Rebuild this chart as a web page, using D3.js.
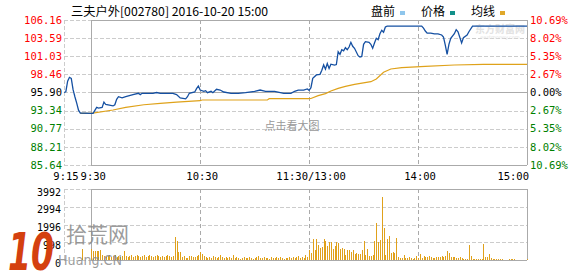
<!DOCTYPE html>
<html>
<head>
<meta charset="utf-8">
<script src="https://cdn.jsdelivr.net/npm/d3@7"></script>
<style>
  body { margin: 0; background: #fff; }
  svg { display: block; }
</style>
</head>
<body>
<svg id="chart" width="578" height="276"></svg>
<script>
// ---- data ----
const title = "三夫户外[002780] 2016-10-20 15:00";
const prevClose = 95.90;
const priceTicks = [106.16, 103.59, 101.03, 98.46, 95.90, 93.34, 90.77, 88.21, 85.64];
const pctTicks = ["10.69%", "8.02%", "5.35%", "2.67%", "0.00%", "2.67%", "5.35%", "8.02%", "10.69%"];
const volTicks = [3992, 2994, 1996, 998, 0];
const timeTicks = ["9:15", "9:30", "10:30", "11:30/13:00", "14:00", "15:00"];

const priceTimes = ["9:15","9:16","9:17","9:18","9:19","9:20","9:21","9:22","9:23","9:24",
  "9:30","9:31","9:33","9:34","9:36","9:37","9:38","9:42","9:43","9:44","9:45","9:47","9:49",
  "9:53","9:56","9:57","9:58","10:04","10:06","10:08","10:15","10:17","10:19","10:22","10:23",
  "10:24","10:27","10:28","10:29","10:30","10:32","10:33","10:34","10:36","10:37","10:39",
  "10:41","10:43","10:47","10:51","10:55","11:00","11:03","11:06","11:11","11:16","11:20",
  "11:22","11:24","11:27","11:29","11:30",
  "13:01","13:02","13:04","13:06","13:07","13:08","13:09","13:10","13:11","13:12","13:14",
  "13:15","13:16","13:17","13:18","13:19","13:20","13:21","13:22","13:23","13:24","13:25",
  "13:27","13:28","13:29","13:30","13:31","13:33","13:34","13:35","13:36","13:37","13:38",
  "13:39","13:40","13:41","13:42","13:43","14:02","14:03","14:04","14:05","14:07","14:09",
  "14:11","14:13","14:14","14:15","14:16","14:17","14:18","14:20","14:21","14:22","14:24",
  "14:25","14:27","14:28","14:30","15:00"];
const priceValues = [95.90,96.0,97.5,98.05,97.9,96.3,95.3,94.4,93.4,93.0,
  92.96,92.96,93.8,93.7,93.8,94.55,94.2,94.0,94.17,94.94,95.3,95.15,95.3,
  95.59,95.79,95.6,95.79,95.79,95.9,95.79,95.79,95.6,95.12,95.0,95.3,
  95.79,95.97,96.44,96.82,96.25,96.07,96.16,95.87,96.07,95.87,96.35,
  96.25,95.97,95.79,95.79,95.87,96.07,96.25,96.07,96.07,95.79,95.79,
  96.07,96.25,96.25,96.4,96.21,
  96.58,97.9,98.38,98.47,99.04,99.8,99.2,100.0,99.3,99.9,99.79,
  99.85,101.67,101.3,101.96,101.8,102.24,101.96,102.34,103.0,102.44,102.15,
  101.11,100.92,101.0,102.72,103.09,103.0,102.72,102.15,102.9,103.57,103.37,
  104.22,104.7,104.42,105.17,105.3,105.3,105.0,104.6,104.3,104.3,104.2,
  104.2,104.04,103.75,102.62,101.3,102.72,103.57,104.22,104.79,104.5,102.9,
  103.66,104.04,104.5,105.3,105.3];

const avgTimes = ["9:24","9:30","9:42","9:49","9:59","10:08","10:17","10:30","10:31","11:07",
  "11:08","11:30","13:01","13:05","13:09","13:12","13:16","13:20","13:25","13:34","13:37",
  "13:41","13:45","13:51","14:04","14:20","14:36","15:00"];
const avgValues = [92.96,92.96,93.42,93.8,94.17,94.37,94.55,94.74,94.84,94.84,
  95.02,95.02,95.05,95.45,95.74,96.11,96.49,96.77,97.05,97.43,97.81,
  98.76,99.23,99.41,99.6,99.79,99.89,99.89];

// volume (手): pre-market match, then one bar a minute
const volPreTime = "9:25";
const volPre = 640;
const volAM = [620,520,500,480,500,540,
  280,200,170,230,260,150,210,280,160,200,150,230,
  500,
  220,160,230,280,150,210,270,200,160,240,280,150,220,260,200,150,230,270,210,160,220,150,240,280,200,170,230,
  1300,1070,450,470,
  160,220,110,110,220,230,170,170,230,300,
  450,350,
  200,170,110,150,110,220,150,110,170,
  280,
  150,110,170,110,150,110,
  280,
  110,150,110,80,110,170,110,110,150,110,80,110,150,220,110,110,170,110,110,80,
  150,110,110,170,110,150,110,80,110,110,150,110,170,110,150,
  250,110,150,110,280,150,560];
const volPM = [410,1180,560,1180,840,650,730,1180,1070,790,
  1010,1010,620,790,1010,960,620,680,620,280,
  560,560,450,560,340,390,340,340,560,1070,
  280,620,220,220,280,1070,2080,1010,1120,3540,
  1800,280,1170,1350,370,450,370,1230,170,110,
  110,280,110,110,170,110,75,110,220,110,
  340,110,220,150,190,220,190,110,110,150,
  150,150,220,150,220,500,390,150,150,150,
  110,110,150,110,75,75,75,840,220,75,
  75,75,75,75,75,900,150,150,340,110,
  75,75,75,30,75,75,20,20,20,75,
  75,75,75,20,20,20,20,20,20,75];

// ---- helpers ----
function fmt(h, m) { return h + ":" + String(m).padStart(2, "0"); }
function minuteIndex(t) {
  const [h, m] = t.split(":").map(Number);
  const total = h * 60 + m;
  if (total <= 11 * 60 + 30) return total - (9 * 60 + 15);
  return total - 13 * 60 + 135;
}
const volAMTimes = volAM.map((d, i) => { const t = 9 * 60 + 30 + i; return fmt(Math.floor(t / 60), t % 60); });
const volPMTimes = volPM.map((d, i) => { const t = 13 * 60 + 1 + i; return fmt(Math.floor(t / 60), t % 60); });
const volData = [{ t: volPreTime, v: volPre }]
  .concat(volAM.map((v, i) => ({ t: volAMTimes[i], v })))
  .concat(volPM.map((v, i) => ({ t: volPMTimes[i], v })));

const svg = d3.select("#chart");
const left = 64, open = 91.3, right = 527;
const x = d3.scaleLinear().domain([0, 255]).range([left, right]);
const y = d3.scaleLinear().domain([85.64, 106.16]).range([165, 20]);
const yv = d3.scaleLinear().domain([0, 3992]).range([260, 189]);

const red = "#ff0000", green = "#008000";
const colorFor = v => v > prevClose ? red : (v < prevClose ? green : "#000");
const mono = "'DejaVu Sans Mono', 'Liberation Mono', monospace";
const cjk = "'Noto Sans CJK SC', sans-serif";

// ---- price panel grid ----
const grid = svg.append("g");
grid.selectAll(".hg").data(priceTicks).join("line")
  .attr("x1", left).attr("x2", right)
  .attr("y1", d => Math.round(y(d)) + 0.5).attr("y2", d => Math.round(y(d)) + 0.5)
  .attr("stroke", "#cccccc").attr("stroke-dasharray", "4,2");
grid.selectAll(".vg").data(["10:30", "11:30", "14:00"]).join("line")
  .attr("x1", d => Math.round(x(minuteIndex(d))) + 0.5).attr("x2", d => Math.round(x(minuteIndex(d))) + 0.5)
  .attr("y1", 20).attr("y2", 165)
  .attr("stroke", "#aaaaaa").attr("stroke-dasharray", "4,3");
grid.append("line").attr("x1", left + 0.5).attr("x2", left + 0.5).attr("y1", 20).attr("y2", 165)
  .attr("stroke", "#cccccc").attr("stroke-dasharray", "4,2");
[106.16, prevClose, 85.64].forEach(v => {
  grid.append("line").attr("x1", Math.round(open)).attr("x2", right)
    .attr("y1", Math.round(y(v)) + 0.5).attr("y2", Math.round(y(v)) + 0.5).attr("stroke", "#aaaaaa");
});
[open, right].forEach(px => {
  grid.append("line").attr("x1", Math.round(px) + 0.5).attr("x2", Math.round(px) + 0.5)
    .attr("y1", 20).attr("y2", 165).attr("stroke", "#aaaaaa");
});

// ---- volume panel grid ----
const vgrid = svg.append("g");
vgrid.selectAll("line.h").data(volTicks).join("line")
  .attr("x1", left).attr("x2", right)
  .attr("y1", d => Math.round(yv(d)) + 0.5).attr("y2", d => Math.round(yv(d)) + 0.5)
  .attr("stroke", "#cccccc").attr("stroke-dasharray", "4,2");
vgrid.selectAll("line.v").data(["10:30", "11:30", "14:00"]).join("line")
  .attr("x1", d => Math.round(x(minuteIndex(d))) + 0.5).attr("x2", d => Math.round(x(minuteIndex(d))) + 0.5)
  .attr("y1", 189).attr("y2", 260)
  .attr("stroke", "#aaaaaa").attr("stroke-dasharray", "4,3");
vgrid.append("line").attr("x1", left + 0.5).attr("x2", left + 0.5).attr("y1", 189).attr("y2", 260)
  .attr("stroke", "#cccccc").attr("stroke-dasharray", "4,2");
[3992, 0].forEach(v => {
  vgrid.append("line").attr("x1", Math.round(open)).attr("x2", right)
    .attr("y1", Math.round(yv(v)) + 0.5).attr("y2", Math.round(yv(v)) + 0.5).attr("stroke", "#aaaaaa");
});
[open, right].forEach(px => {
  vgrid.append("line").attr("x1", Math.round(px) + 0.5).attr("x2", Math.round(px) + 0.5)
    .attr("y1", 189).attr("y2", 260).attr("stroke", "#aaaaaa");
});

// ---- volume bars ----
svg.append("g").selectAll("rect").data(volData).join("rect")
  .attr("x", d => Math.round(x(minuteIndex(d.t))))
  .attr("width", 1)
  .attr("y", d => yv(d.v))
  .attr("height", d => yv(0) - yv(d.v))
  .attr("fill", "#e0a11b")
  .attr("shape-rendering", "crispEdges");

// ---- watermarks behind lines ----
svg.append("text").attr("x", 292).attr("y", 130).attr("text-anchor", "middle")
  .attr("font-family", cjk).attr("font-size", 11).attr("fill", "#999")
  .text("点击看大图");
svg.append("text").attr("x", 500).attr("y", 33).attr("text-anchor", "middle")
  .attr("font-family", cjk).attr("font-size", 10).attr("font-weight", "bold").attr("fill", "#e2e2e2")
  .text("东方财富网");
svg.append("text").attr("x", 500).attr("y", 39).attr("text-anchor", "middle")
  .attr("font-family", "'DejaVu Sans', sans-serif").attr("font-size", 5).attr("fill", "#e2e2e2")
  .text("eastmoney.com");

// ---- average and price lines ----
const line = d3.line().x(d => x(minuteIndex(d[0]))).y(d => y(d[1]));
svg.append("path").datum(avgTimes.map((t, i) => [t, avgValues[i]]))
  .attr("d", line).attr("fill", "none").attr("stroke", "#dfa21a").attr("stroke-width", 1.2);
svg.append("path").datum(priceTimes.map((t, i) => [t, priceValues[i]]))
  .attr("d", line).attr("fill", "none").attr("stroke", "#1550a2").attr("stroke-width", 1.3);

// ---- axis labels ----
svg.append("g").selectAll("text").data(priceTicks).join("text")
  .attr("x", 62).attr("y", d => y(d)).attr("dy", "0.35em").attr("text-anchor", "end")
  .attr("font-family", mono).attr("font-size", 10.5).attr("fill", d => colorFor(d))
  .text(d => d.toFixed(2));
svg.append("g").selectAll("text").data(pctTicks).join("text")
  .attr("x", 530).attr("y", (d, i) => y(priceTicks[i])).attr("dy", "0.35em")
  .attr("font-family", mono).attr("font-size", 10.5).attr("fill", (d, i) => colorFor(priceTicks[i]))
  .text(d => d);
svg.append("g").selectAll("text").data(volTicks).join("text")
  .attr("x", 61).attr("y", d => yv(d) + 3).attr("dy", "0.35em").attr("text-anchor", "end")
  .attr("font-family", mono).attr("font-size", 10).attr("fill", "#000")
  .text(d => d);
svg.append("g").selectAll("text").data(timeTicks).join("text")
  .attr("x", d => {
    const t = d.split("/")[0];
    return d === "15:00" ? 529 : x(minuteIndex(t)) + 2;
  })
  .attr("y", 180)
  .attr("text-anchor", d => d === "15:00" ? "end" : "middle")
  .attr("font-family", mono).attr("font-size", 10.5).attr("fill", "#000")
  .text(d => d);

// ---- title and legend ----
svg.append("text").attr("x", 71).attr("y", 16)
  .attr("font-family", "'Noto Sans CJK SC', 'DejaVu Sans Mono', sans-serif").attr("font-size", 12)
  .attr("textLength", 197).attr("lengthAdjust", "spacingAndGlyphs")
  .text(title);
const legend = [["盘前", "#8fc6ec", 371], ["价格", "#12908a", 421], ["均线", "#e0a82a", 471]];
const lg = svg.append("g").selectAll("g").data(legend).join("g")
  .attr("transform", d => `translate(${d[2]},0)`);
lg.append("text").attr("x", 0).attr("y", 16)
  .attr("font-family", cjk).attr("font-size", 12).attr("fill", "#000").text(d => d[0]);
lg.append("rect").attr("x", 29).attr("y", 11).attr("width", 5).attr("height", 4)
  .attr("fill", d => d[1]);

// ---- site logo overlay (bottom left) ----
const logo = svg.append("g");
logo.append("text").attr("x", 8).attr("y", 270)
  .attr("font-family", "'DejaVu Sans', sans-serif").attr("font-weight", "bold").attr("font-style", "italic")
  .attr("font-size", 52).attr("textLength", 46).attr("lengthAdjust", "spacingAndGlyphs")
  .attr("fill", "#d4400f").text("10");
logo.append("text").attr("x", 66).attr("y", 242)
  .attr("font-family", cjk).attr("font-size", 21).attr("fill", "#8a8a8a").attr("fill-opacity", 0.85)
  .text("拾荒网");
logo.append("text").attr("x", 58).attr("y", 265)
  .attr("font-family", "'DejaVu Sans', sans-serif").attr("font-size", 14)
  .attr("textLength", 64).attr("lengthAdjust", "spacingAndGlyphs")
  .attr("fill", "#8a8a8a").attr("fill-opacity", 0.85).text("Huang.CN");
</script>
</body>
</html>
